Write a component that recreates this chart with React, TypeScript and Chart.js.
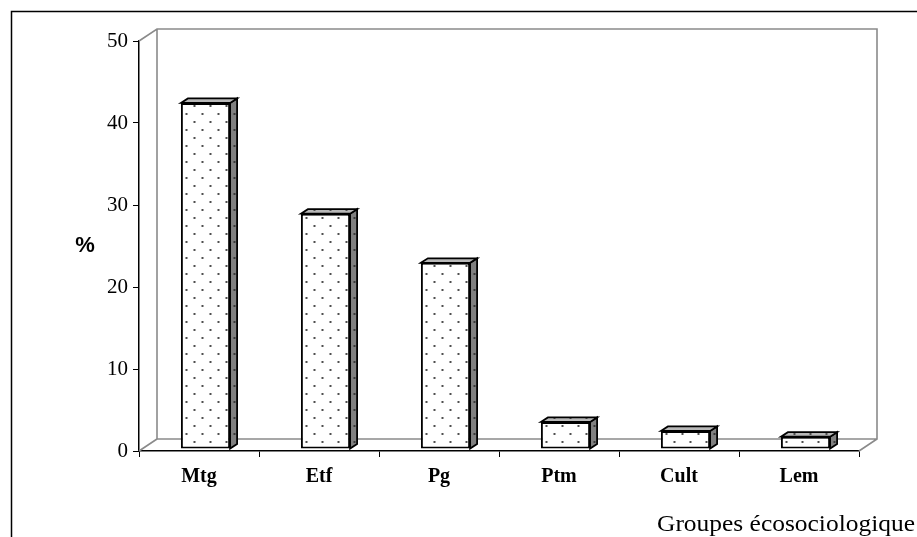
import React, { useEffect, useRef } from "react";
import { Chart, registerables } from "chart.js";
Chart.register(...registerables);

const categories = ["Mtg", "Etf", "Pg", "Ptm", "Cult", "Lem"];
const percentages = [42.2, 28.7, 22.7, 3.3, 2.2, 1.5];
const yMin = 0;
const yMax = 50;
const yStep = 10;
const yAxisLabel = "%";
const xAxisLabel = "Groupes écosociologique";

// 3D geometry (pixels)
const WALL_DX = 18;
const WALL_DY = -12;
const BAR_DX = 6.5;
const BAR_DY = -2;
const SIDE_DX = 7;
const SIDE_DY = -4.5;

function makePattern(bg: string, dot: string): CanvasPattern | string {
  const c = document.createElement("canvas");
  c.width = 16;
  c.height = 16;
  const g = c.getContext("2d");
  if (!g) return bg;
  g.fillStyle = bg;
  g.fillRect(0, 0, 16, 16);
  g.fillStyle = dot;
  g.beginPath();
  g.arc(4, 4, 1.05, 0, Math.PI * 2);
  g.fill();
  g.beginPath();
  g.arc(12, 12, 1.05, 0, Math.PI * 2);
  g.fill();
  return g.createPattern(c, "repeat") || bg;
}

export default function App() {
  const ref = useRef<HTMLCanvasElement | null>(null);

  useEffect(() => {
    const canvas = ref.current;
    if (!canvas) return;
    const frontPattern = makePattern("#ffffff", "#222222");
    const sidePattern = makePattern("#808080", "#2a2a2a");
    const topPattern = makePattern("#b8b8b8", "#333333");

    const threeD = {
      id: "threeD",
      beforeDatasetsDraw(chart: any) {
        const { ctx, chartArea: a } = chart;
        ctx.save();
        ctx.strokeStyle = "#8a8a8a";
        ctx.lineWidth = 1.6;
        ctx.beginPath();
        ctx.moveTo(a.left, a.top);
        ctx.lineTo(a.left + WALL_DX, a.top + WALL_DY);
        ctx.lineTo(a.right + WALL_DX, a.top + WALL_DY);
        ctx.lineTo(a.right + WALL_DX, a.bottom + WALL_DY);
        ctx.lineTo(a.right, a.bottom);
        ctx.moveTo(a.left + WALL_DX, a.top + WALL_DY);
        ctx.lineTo(a.left + WALL_DX, a.bottom + WALL_DY);
        ctx.lineTo(a.right + WALL_DX, a.bottom + WALL_DY);
        ctx.moveTo(a.left, a.bottom);
        ctx.lineTo(a.left + WALL_DX, a.bottom + WALL_DY);
        ctx.stroke();
        ctx.restore();
        ctx.save();
        ctx.translate(BAR_DX, BAR_DY);
      },
      afterDatasetsDraw(chart: any) {
        const ctx = chart.ctx;
        const meta = chart.getDatasetMeta(0);
        meta.data.forEach((bar: any) => {
          const { x, y, base, width } = bar.getProps(["x", "y", "base", "width"], true);
          const l = x - width / 2;
          const r = x + width / 2;
          ctx.lineWidth = 1.8;
          ctx.strokeStyle = "#000000";
          ctx.lineJoin = "miter";
          // side face
          ctx.beginPath();
          ctx.moveTo(r, y);
          ctx.lineTo(r + SIDE_DX, y + SIDE_DY);
          ctx.lineTo(r + SIDE_DX, base + SIDE_DY);
          ctx.lineTo(r, base);
          ctx.closePath();
          ctx.fillStyle = sidePattern;
          ctx.fill();
          ctx.stroke();
          // top face
          ctx.beginPath();
          ctx.moveTo(l, y);
          ctx.lineTo(l + SIDE_DX, y + SIDE_DY);
          ctx.lineTo(r + SIDE_DX, y + SIDE_DY);
          ctx.lineTo(r, y);
          ctx.closePath();
          ctx.fillStyle = topPattern;
          ctx.fill();
          ctx.stroke();
        });
        ctx.restore();
      },
      afterDraw(chart: any) {
        const ctx = chart.ctx;
        ctx.save();
        // outer frame
        ctx.strokeStyle = "#000000";
        ctx.lineWidth = 1.5;
        ctx.strokeRect(11.5, 11.5, 1000, 1000);
        // y label
        ctx.fillStyle = "#000000";
        ctx.font = "bold 22px 'Liberation Sans'";
        ctx.textAlign = "center";
        ctx.textBaseline = "middle";
        ctx.fillText(yAxisLabel, 85, 246);
        // x title
        ctx.font = "23px 'Liberation Serif'";
        ctx.textAlign = "left";
        ctx.textBaseline = "alphabetic";
        const w = ctx.measureText(xAxisLabel).width;
        const sx = 258 / w;
        ctx.translate(657, 531);
        ctx.scale(sx, 1);
        ctx.fillText(xAxisLabel, 0, 0);
        ctx.restore();
      },
    };

    const chart = new Chart(canvas, {
      type: "bar",
      data: {
        labels: categories,
        datasets: [
          {
            data: percentages,
            backgroundColor: frontPattern as any,
            borderColor: "#000000",
            borderWidth: 2,
            borderSkipped: false,
            barPercentage: 0.41,
            categoryPercentage: 1,
            clip: false as any,
          },
        ],
      },
      options: {
        animation: false,
        responsive: false,
        devicePixelRatio: 1,
        layout: { padding: { top: 41, right: 58, bottom: 0, left: 0 } },
        plugins: {
          legend: { display: false },
          tooltip: { enabled: false },
        },
        scales: {
          x: {
            afterFit: (s: any) => {
              s.height = 86;
            },
            grid: {
              offset: true,
              drawOnChartArea: false,
              drawTicks: true,
              tickLength: 6,
              color: "#000000",
            },
            border: { display: true, color: "#000000", width: 1.5 },
            ticks: {
              color: "#000000",
              padding: 8,
              font: { family: "'Liberation Serif'", size: 20, weight: "bold" },
            },
          },
          y: {
            min: yMin,
            max: yMax,
            afterFit: (s: any) => {
              s.width = 139;
            },
            grid: {
              drawOnChartArea: false,
              drawTicks: true,
              tickLength: 6,
              color: "#000000",
            },
            border: { display: true, color: "#000000", width: 1.5 },
            ticks: {
              stepSize: yStep,
              color: "#000000",
              padding: 5,
              font: { family: "'Liberation Serif'", size: 21 },
            },
          },
        },
      },
      plugins: [threeD],
    });
    return () => chart.destroy();
  }, []);

  return (
    <div style={{ position: "fixed", left: 0, top: 0, width: 917, height: 537, background: "#ffffff" }}>
      <canvas ref={ref} width={917} height={537} style={{ display: "block", width: 917, height: 537 }} />
    </div>
  );
}
